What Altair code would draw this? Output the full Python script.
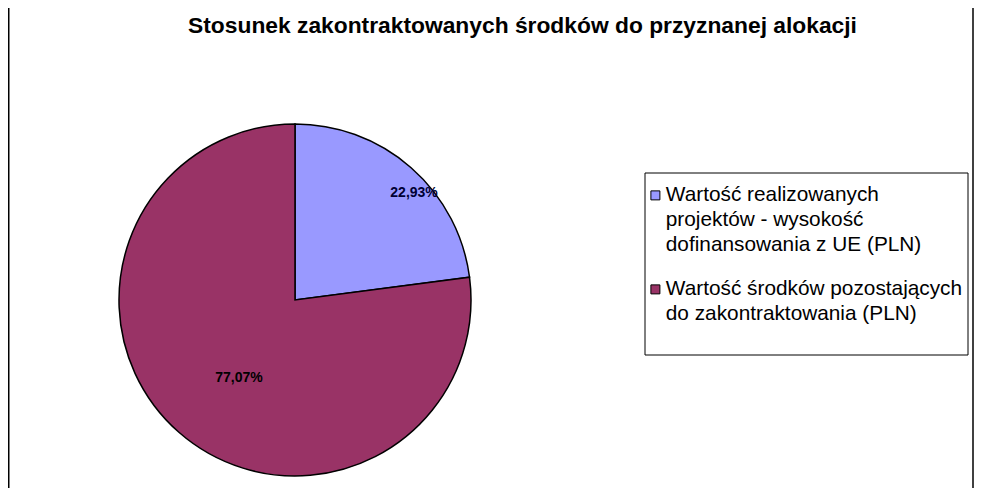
import json
import altair as alt
import pandas as pd

# ---- data ----
title_text = "Stosunek zakontraktowanych środków do przyznanej alokacji"
categories = [
    "Wartość realizowanych projektów - wysokość dofinansowania z UE (PLN)",
    "Wartość środków pozostających do zakontraktowania (PLN)",
]
shares = [22.93, 77.07]
share_labels = ["22,93%", "77,07%"]
legend_lines = [
    ["Wartość realizowanych", "projektów - wysokość", "dofinansowania z UE (PLN)"],
    ["Wartość środków pozostających", "do zakontraktowania (PLN)"],
]
colors = ["#9999FF", "#993366"]

df = pd.DataFrame({
    "category": categories,
    "share": shares,
    "label": share_labels,
    "idx": list(range(len(categories))),
})

label_expr = " : ".join(
    f"datum.label == {json.dumps(c)} ? {json.dumps(lines)}"
    for c, lines in zip(categories, legend_lines)
) + " : datum.label"

FONT = "Liberation Sans"
CX, CY, R = 287, 244, 176

# square swatch drawn a little below the entry anchor so it sits on the first text line
swatch = "M-1,1.22 H1 V3.22 H-1 Z"

color_enc = alt.Color(
    "category:N",
    scale=alt.Scale(domain=categories, range=colors),
    legend=alt.Legend(
        orient="none",
        legendX=637,
        legendY=119,
        title=None,
        symbolType=swatch,
        symbolSize=81,
        symbolStrokeColor="black",
        symbolStrokeWidth=1,
        symbolOpacity=1,
        labelFont=FONT,
        labelFontSize=20.8,
        labelColor="black",
        labelExpr=label_expr,
        labelBaseline="top",
        labelOffset=0,
        labelLimit=400,
        rowPadding=13,
    ),
)

base = alt.Chart(df).encode(
    theta=alt.Theta("share:Q", stack=True),
    order=alt.Order("idx:Q"),
)

pie = base.mark_arc(outerRadius=R, stroke="black", strokeWidth=1.5).encode(
    color=color_enc, x=alt.value(CX), y=alt.value(CY)
)

txt1 = base.mark_text(
    radius=160, dx=13.5, dy=13.3, font=FONT, fontSize=14, fontWeight="bold"
).encode(
    detail="category:N",
    text=alt.condition("datum.idx == 0", "label:N", alt.value("")),
    color=alt.value("#000033"),
    x=alt.value(CX), y=alt.value(CY),
)
txt2 = base.mark_text(
    radius=96, dx=7.3, dy=5.8, font=FONT, fontSize=14, fontWeight="bold"
).encode(
    detail="category:N",
    text=alt.condition("datum.idx == 1", "label:N", alt.value("")),
    color=alt.value("#000000"),
    x=alt.value(CX), y=alt.value(CY),
)

one = alt.Chart(pd.DataFrame({"k": [0]}))
legend_box = one.mark_rect(fill="white", stroke="black", strokeWidth=1).encode(
    x=alt.value(637), x2=alt.value(960), y=alt.value(117), y2=alt.value(299)
)
border_l = one.mark_rule(color="black", strokeWidth=1.5).encode(
    x=alt.value(0.75), y=alt.value(-48), y2=alt.value(432)
)
border_r = one.mark_rule(color="black", strokeWidth=1.5).encode(
    x=alt.value(965), y=alt.value(-48), y2=alt.value(432)
)

chart = alt.layer(legend_box, border_l, border_r, pie, txt1, txt2).properties(
    width=966,
    height=432,
    padding={"left": 0, "top": 48, "right": 0, "bottom": 0},
    autosize=alt.AutoSizeParams(type="none"),
    background="white",
    title=alt.TitleParams(
        title_text,
        font=FONT,
        fontSize=22.8,
        fontWeight="bold",
        color="black",
        anchor="middle",
        dx=31.5,
        offset=-42,
        baseline="middle",
    ),
).configure(
    view=alt.ViewConfig(stroke="transparent"),
    style={"guide-label": {"lineHeight": 25}},
)

chart.save("out.html", embed_options={"renderer": "svg", "actions": False})
